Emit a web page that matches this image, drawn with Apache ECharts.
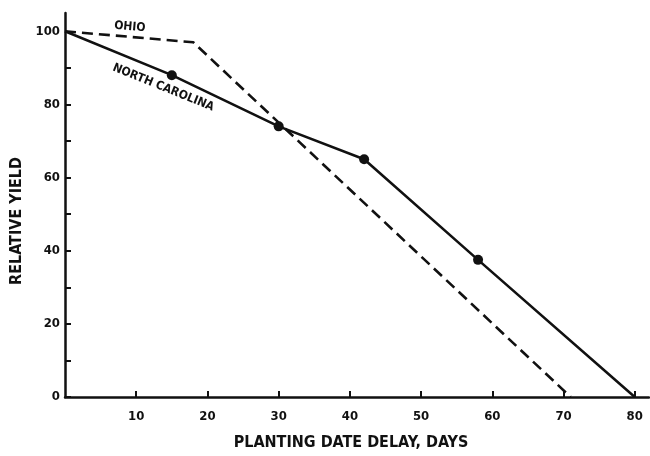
<!DOCTYPE html>
<html>
<head>
<meta charset="utf-8">
<script src="https://cdn.jsdelivr.net/npm/echarts@6/dist/echarts.min.js"></script>
<style>
  html, body { margin: 0; padding: 0; background: #fff; }
  #chart { width: 650px; height: 456px; }
</style>
</head>
<body>
<div id="chart"></div>
<script>
// Relative yield vs. planting date delay (days)
const ohioDays  = [0, 18, 71];
const ohioYield = [100, 97, 0];

const ncDays  = [0, 15, 30, 42, 58, 80];
const ncYield = [100, 88, 74, 65, 37.5, 0];
// observed points on the North Carolina line (markers)
const ncObserved = [15, 30, 42, 58];

const xTicks = [10, 20, 30, 40, 50, 60, 70, 80];
const yTicks = [0, 10, 20, 30, 40, 50, 60, 70, 80, 90, 100];
const yLabels = [0, 20, 40, 60, 80, 100];

const FONT = '"DejaVu Sans Condensed", "DejaVu Sans", sans-serif';
const INK = '#111';

const ohioData = ohioDays.map((d, i) => [d, ohioYield[i]]);
const ncData = ncDays.map((d, i) => ({
  value: [d, ncYield[i]],
  symbolSize: ncObserved.includes(d) ? 10 : 0
}));

const chart = echarts.init(document.getElementById('chart'), null, { renderer: 'canvas' });
chart.setOption({
  animation: false,
  backgroundColor: '#fff',
  grid: { left: 65, top: 13, width: 584, height: 389 },
  graphic: [
    {
      type: 'text', left: 9, top: 157,
      style: {
        text: 'RELATIVE YIELD', fontFamily: FONT, fontSize: 16, fontWeight: 'bold', fill: INK
      },
      rotation: Math.PI / 2,
      originX: 0, originY: 0
    }
  ],
  xAxis: {
    type: 'value', min: 0, max: 82,
    name: 'PLANTING DATE DELAY, DAYS',
    nameLocation: 'middle', nameGap: 38,
    nameTextStyle: { fontFamily: FONT, fontSize: 16, fontWeight: 'bold', color: INK, padding: [0, 12, 0, 0] },
    axisLine: { lineStyle: { color: INK, width: 2.5 } },
    axisTick: { inside: true, length: 6, lineStyle: { color: INK, width: 2 }, customValues: xTicks },
    axisLabel: { fontFamily: FONT, fontSize: 13, fontWeight: 'bold', color: INK, margin: 13, customValues: xTicks },
    splitLine: { show: false }
  },
  yAxis: {
    type: 'value', min: 0, max: 105,
    axisLine: { lineStyle: { color: INK, width: 2.5 } },
    axisTick: { inside: true, length: 6, lineStyle: { color: INK, width: 2 }, customValues: yTicks },
    axisLabel: { fontFamily: FONT, fontSize: 13, fontWeight: 'bold', color: INK, margin: 5, customValues: yLabels },
    splitLine: { show: false }
  },
  series: [
    {
      name: 'OHIO', type: 'line', data: ohioData,
      symbol: 'none',
      lineStyle: { color: INK, width: 2.6, type: [11, 6] },
      markPoint: {
        symbol: 'circle', symbolSize: 0,
        label: { show: true, formatter: 'OHIO', fontFamily: FONT, fontSize: 12, fontWeight: 'bold', color: INK, rotate: -5 },
        data: [{ coord: [9.1, 101.2] }]
      }
    },
    {
      name: 'NORTH CAROLINA', type: 'line', data: ncData,
      symbol: 'circle', itemStyle: { color: INK },
      lineStyle: { color: INK, width: 2.6 },
      markPoint: {
        symbol: 'circle', symbolSize: 0,
        label: { show: true, formatter: 'NORTH CAROLINA', fontFamily: FONT, fontSize: 12, fontWeight: 'bold', color: INK, rotate: -22 },
        data: [{ coord: [13.8, 84.6] }]
      }
    }
  ]
});
</script>
</body>
</html>
